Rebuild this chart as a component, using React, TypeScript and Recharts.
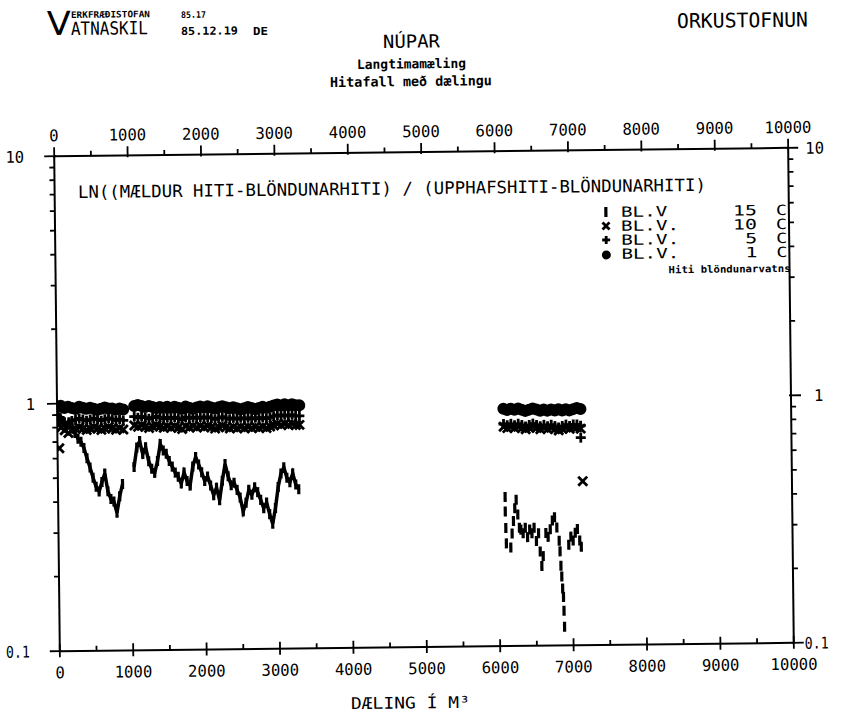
import React from "react";
import { ScatterChart, Scatter, XAxis, YAxis, Legend } from "recharts";

const FONT = "'DejaVu Sans Mono', 'Liberation Mono', monospace";

// dæling (m3) ticks: every 500, labels every 1000
const xTicks = [0, 500, 1000, 1500, 2000, 2500, 3000, 3500, 4000, 4500, 5000, 5500, 6000, 6500, 7000, 7500, 8000, 8500, 9000, 9500, 10000];
const xLabels = [0, 1000, 2000, 3000, 4000, 5000, 6000, 7000, 8000, 9000, 10000];
const yTicks = [0.1, 0.2, 0.3, 0.4, 0.5, 0.6, 0.7, 0.8, 0.9, 1, 2, 3, 4, 5, 6, 7, 8, 9, 10];
const yLabels = [0.1, 1, 10];

// BL.V 1 C  (first period from 0 m3, second from 6080 m3, 50 m3 apart)
const bl1A = [
  0.97, 0.98, 0.96, 0.97, 0.96, 0.95, 0.97, 0.96, 0.95, 0.96, 0.95, 0.94, 0.95, 0.96, 0.95, 0.95, 0.94, 0.95, 0.94,
  null, null,
  0.97, 0.98, 0.97, 0.96, 0.97, 0.96, 0.95, 0.96, 0.95, 0.96,
  0.95, 0.96, 0.95, 0.94, 0.96, 0.95, 0.94, 0.95, 0.96, 0.95,
  0.96, 0.95, 0.94, 0.95, 0.96, 0.95, 0.94, 0.95, 0.94, 0.93,
  0.94, 0.95, 0.94, 0.93, 0.94, 0.95, 0.94, 0.95, 0.96, 0.97,
  0.96, 0.97, 0.96, 0.97, 0.96, 0.96,
];
const bl1B = [0.91, 0.9, 0.91, 0.9, 0.91, 0.9, 0.89, 0.9, 0.91, 0.9, 0.89, 0.9, 0.89, 0.9, 0.89, 0.9, 0.89, 0.9, 0.89, 0.9, 0.91, 0.9];

// BL.V 5 C
const bl5A = [
  0.88, 0.86, 0.84, 0.82, 0.85, 0.86, 0.87, 0.86, 0.85, 0.86, 0.87, 0.86, 0.85, 0.86, 0.87, 0.86, 0.85, 0.86, 0.85,
  null, null,
  0.88, 0.87, 0.88, 0.87, 0.86, 0.87, 0.88, 0.87, 0.86, 0.87,
  0.86, 0.87, 0.86, 0.85, 0.87, 0.86, 0.87, 0.86, 0.87, 0.86,
  0.87, 0.86, 0.85, 0.86, 0.87, 0.86, 0.85, 0.86, 0.85, 0.86,
  0.85, 0.86, 0.85, 0.86, 0.85, 0.86, 0.85, 0.86, 0.87, 0.88,
  0.87, 0.88, 0.87, 0.88, 0.87, 0.87,
];
const bl5B = [0.79, 0.78, 0.79, 0.78, 0.79, 0.78, 0.77, 0.78, 0.79, 0.78, 0.77, 0.78, 0.77, 0.78, 0.77, 0.76, 0.77, 0.78, 0.77, 0.78, 0.78, 0.77];
const bl5ExtraX = [7130];
const bl5ExtraY = [0.69];

// BL.V 10 C
const bl10A = [
  0.84, 0.8, 0.78, 0.76, 0.78, 0.79, 0.8, 0.79, 0.78, 0.79, 0.8, 0.79, 0.78, 0.79, 0.8, 0.79, 0.78, 0.79, 0.78,
  null, null,
  0.81, 0.8, 0.81, 0.8, 0.79, 0.8, 0.81, 0.8, 0.79, 0.8,
  0.79, 0.8, 0.79, 0.78, 0.8, 0.79, 0.8, 0.79, 0.8, 0.79,
  0.8, 0.79, 0.78, 0.79, 0.8, 0.79, 0.78, 0.79, 0.78, 0.79,
  0.78, 0.79, 0.78, 0.79, 0.78, 0.79, 0.78, 0.79, 0.8, 0.81,
  0.8, 0.81, 0.8, 0.81, 0.8, 0.8,
];
const bl10B = [0.77, 0.76, 0.77, 0.76, 0.77, 0.76, 0.75, 0.76, 0.77, 0.76, 0.75, 0.76, 0.75, 0.76, 0.75, 0.74, 0.75, 0.76, 0.75, 0.76, 0.76, 0.75];
const bl10ExtraX = [25, 7150];
const bl10ExtraY = [0.66, 0.46];

// BL.V 15 C, first period in two runs (40 m3 apart), broken near 950 m3
const bl15A1 = [
  0.92, 0.88, 0.85, 0.8, 0.84, 0.8, 0.76, 0.72, 0.7, 0.66,
  0.6, 0.55, 0.5, 0.46, 0.44, 0.48, 0.52, 0.44, 0.41, 0.4,
  0.36, 0.42, 0.47,
];
const bl15A2 = [
  0.55, 0.66, 0.7, 0.62,
  0.66, 0.58, 0.54, 0.52, 0.58, 0.68, 0.64, 0.62, 0.58, 0.55,
  0.52, 0.5, 0.47, 0.52, 0.48, 0.46, 0.55, 0.6, 0.56, 0.52,
  0.48, 0.5, 0.46, 0.42, 0.45, 0.4, 0.48, 0.56, 0.5, 0.46,
  0.47, 0.44, 0.41, 0.36, 0.39, 0.44, 0.42, 0.45, 0.43, 0.4,
  0.37, 0.39, 0.35, 0.32, 0.37, 0.45, 0.51, 0.54, 0.49, 0.47,
  0.51, 0.46, 0.44,
];
const bl15BX = [
  6090, 6090, 6095, 6100, 6160, 6180, 6200, 6220, 6240, 6260, 6280, 6300, 6330, 6360, 6390, 6420, 6450, 6480, 6510, 6540,
  6560, 6580, 6600, 6640, 6670, 6700, 6730, 6760, 6790, 6820, 6830, 6840, 6850, 6860, 6870, 6875, 6880, 6950, 6980, 7010,
  7040, 7070, 7100, 7120,
];
const bl15BY = [
  0.4, 0.35, 0.3, 0.26, 0.25, 0.285, 0.32, 0.36, 0.39, 0.34, 0.3, 0.295, 0.285, 0.3, 0.275, 0.295, 0.285, 0.3, 0.265, 0.285,
  0.24, 0.21, 0.23, 0.285, 0.275, 0.295, 0.32, 0.33, 0.3, 0.265, 0.24, 0.21, 0.19, 0.17, 0.157, 0.138, 0.119, 0.255, 0.275, 0.265,
  0.285, 0.295, 0.265, 0.25,
];

// plot frame before the page tilt
const PL = 57;
const PR = 791;
const PT = 152;
const PB = 647;
// the scanned sheet is turned a little
const TILT = 0.65;
const CX = 425;
const CY = 400;
const SIN = Math.sin((TILT * Math.PI) / 180);

// point on the tilted sheet -> point before tilt
function un(x: number, y: number): [number, number] {
  return [CX + (x - CX) - SIN * (y - CY), CY + SIN * (x - CX) + (y - CY)];
}

type Pt = { x: number; y: number };

function spaced(start: number, step: number, vals: (number | null)[]): Pt[] {
  const out: Pt[] = [];
  vals.forEach((v, i) => {
    if (v !== null) out.push({ x: start + i * step, y: v });
  });
  return out;
}

function pairs(xs: number[], ys: number[]): Pt[] {
  return xs.map((x, i) => ({ x, y: ys[i] }));
}

const s1 = [...spaced(0, 50, bl1A), ...spaced(6080, 50, bl1B)];
const s5 = [...spaced(0, 50, bl5A), ...spaced(6080, 50, bl5B), ...pairs(bl5ExtraX, bl5ExtraY)];
const s10 = [...spaced(0, 50, bl10A), ...spaced(6080, 50, bl10B), ...pairs(bl10ExtraX, bl10ExtraY)];
const s15a = spaced(0, 40, bl15A1);
const s15b = spaced(1040, 40, bl15A2);
const s15c = pairs(bl15BX, bl15BY);

const INK = "#000";

// marker shapes
function Dash(p: any) {
  return <line x1={p.cx} x2={p.cx} y1={p.cy - 5} y2={p.cy + 5} stroke={INK} strokeWidth={3.2} />;
}
function Cross(p: any) {
  const r = p.r ?? 4.5;
  return (
    <g stroke={INK} strokeWidth={2.8}>
      <line x1={p.cx - r} y1={p.cy - r} x2={p.cx + r} y2={p.cy + r} />
      <line x1={p.cx - r} y1={p.cy + r} x2={p.cx + r} y2={p.cy - r} />
    </g>
  );
}
function Plus(p: any) {
  const r = p.r ?? 5;
  return (
    <g stroke={INK} strokeWidth={2.8}>
      <line x1={p.cx - r} y1={p.cy} x2={p.cx + r} y2={p.cy} />
      <line x1={p.cx} y1={p.cy - r} x2={p.cx} y2={p.cy + r} />
    </g>
  );
}
function Blob(p: any) {
  return <circle cx={p.cx} cy={p.cy} r={p.r ?? 6} fill={INK} />;
}

function Txt(props: any) {
  const { x, y, w, size = 17, bold = false, anchor = "start", children } = props;
  return (
    <text
      x={x}
      y={y}
      fontFamily={FONT}
      fontSize={size}
      fontWeight={bold ? "bold" : "normal"}
      textAnchor={anchor}
      textLength={w}
      lengthAdjust="spacingAndGlyphs"
      fill={INK}
    >
      {children}
    </text>
  );
}

// text placed where it sits on the tilted sheet
function SheetTxt(props: any) {
  const [x, y] = un(props.x, props.y);
  return <Txt {...props} x={x} y={y} />;
}

// plotter digits are about 9.4 px, the point narrower
function labelWidth(v: number) {
  const s = String(v);
  return s.replace(".", "").length * 9.4 + (s.includes(".") ? 5 : 0);
}

function renderBottomTick(props: any) {
  const { x, payload } = props;
  const v = payload.value;
  const major = xLabels.includes(v);
  return (
    <g key={`b${v}`}>
      <path d={`M${x},${major ? PB - 7 : PB - 5}V${major ? PB + 6 : PB}`} stroke={INK} strokeWidth={1.8} fill="none" />
      {major && (
        <Txt x={x} y={PB + 27} size={16} w={labelWidth(v)} anchor="middle">
          {v}
        </Txt>
      )}
    </g>
  );
}

function renderTopTick(props: any) {
  const { x, payload } = props;
  const v = payload.value;
  const major = xLabels.includes(v);
  return (
    <g key={`t${v}`}>
      <path d={`M${x},${major ? PT - 9 : PT - 5}V${major ? PT + 2 : PT}`} stroke={INK} strokeWidth={1.8} fill="none" />
      {major && (
        <Txt x={x} y={PT - 15} size={16} w={labelWidth(v)} anchor="middle">
          {v}
        </Txt>
      )}
    </g>
  );
}

function renderLeftTick(props: any) {
  const { y, payload } = props;
  const v = payload.value;
  const major = yLabels.includes(v);
  return (
    <g key={`l${v}`}>
      <path d={`M${major ? PL - 10 : PL - 5},${y}H${major ? PL + 2 : PL}`} stroke={INK} strokeWidth={1.8} fill="none" />
      {major && (
        <Txt x={v === 1 ? 35 : 27} y={y + 6} size={16} w={labelWidth(v)} anchor="end">
          {v}
        </Txt>
      )}
    </g>
  );
}

function renderRightTick(props: any) {
  const { y, payload } = props;
  const v = payload.value;
  const major = yLabels.includes(v);
  return (
    <g key={`r${v}`}>
      <path d={`M${major ? PR - 2 : PR},${y}H${major ? PR + 10 : PR + 5}`} stroke={INK} strokeWidth={1.8} fill="none" />
      {major && (
        <Txt x={v === 1 ? 814 : v === 10 ? 808 : 802} y={y + 6} size={16} w={labelWidth(v)}>
          {v}
        </Txt>
      )}
    </g>
  );
}

const legendRows = [
  { sym: "dash", label: "BL.V", num: "15" },
  { sym: "cross", label: "BL.V.", num: "10" },
  { sym: "plus", label: "BL.V.", num: "5" },
  { sym: "dot", label: "BL.V.", num: "1" },
];

function LegendBox() {
  return (
    <svg width={200} height={80}>
      {legendRows.map((r, i) => {
        const cy = 12 + i * 14;
        const cx = 9;
        return (
          <g key={r.num}>
            {r.sym === "dash" && <Dash cx={cx} cy={cy} />}
            {r.sym === "cross" && <Cross cx={cx} cy={cy} r={3.5} />}
            {r.sym === "plus" && <Plus cx={cx} cy={cy} r={4} />}
            {r.sym === "dot" && <Blob cx={cx} cy={cy + 1} r={4.5} />}
            <Txt x={24} y={cy + 5} size={14} w={r.label.length * 11.6}>
              {r.label}
            </Txt>
            <Txt x={160} y={cy + 5} size={14} w={r.num.length * 12} anchor="end">
              {r.num}
            </Txt>
            <Txt x={190} y={cy + 5} size={14} w={11} anchor="end">
              C
            </Txt>
          </g>
        );
      })}
      <Txt x={71} y={74} size={10} bold w={122}>
        Hiti blöndunarvatns
      </Txt>
    </svg>
  );
}

const [legX, legY] = un(597, 200);
const [vX, vY] = un(47, 35);

export default function App() {
  return (
    <div style={{ position: "absolute", left: 0, top: 0, width: 848, height: 713, background: "#fff", overflow: "hidden" }}>
      <div style={{ position: "relative", width: 848, height: 713, transform: `rotate(-${TILT}deg)`, transformOrigin: `${CX}px ${CY}px` }}>
        <ScatterChart width={848} height={713} margin={{ top: PT - 1, right: 848 - PR - 1, bottom: 713 - PB - 1, left: PL - 1 }}>
          <XAxis
            xAxisId="b"
            type="number"
            dataKey="x"
            domain={[0, 10000]}
            allowDataOverflow
            ticks={xTicks}
            interval={0}
            height={1}
            orientation="bottom"
            axisLine={{ stroke: INK, strokeWidth: 2 }}
            tickLine={false}
            tick={renderBottomTick}
          />
          <XAxis
            xAxisId="t"
            type="number"
            dataKey="x"
            domain={[0, 10000]}
            allowDataOverflow
            ticks={xTicks}
            interval={0}
            height={1}
            orientation="top"
            axisLine={{ stroke: INK, strokeWidth: 2 }}
            tickLine={false}
            tick={renderTopTick}
          />
          <YAxis
            yAxisId="l"
            type="number"
            dataKey="y"
            scale="log"
            domain={[0.1, 10]}
            allowDataOverflow
            ticks={yTicks}
            interval={0}
            width={1}
            orientation="left"
            axisLine={{ stroke: INK, strokeWidth: 2 }}
            tickLine={false}
            tick={renderLeftTick}
          />
          <YAxis
            yAxisId="r"
            type="number"
            dataKey="y"
            scale="log"
            domain={[0.1, 10]}
            allowDataOverflow
            ticks={yTicks}
            interval={0}
            width={1}
            orientation="right"
            axisLine={{ stroke: INK, strokeWidth: 2 }}
            tickLine={false}
            tick={renderRightTick}
          />
          <Scatter name="BL.V 15 C" data={s15a} xAxisId="b" yAxisId="l" shape={<Dash />} line={{ stroke: INK, strokeWidth: 3.5 }} isAnimationActive={false} />
          <Scatter name="BL.V 15 C b" data={s15b} xAxisId="b" yAxisId="l" shape={<Dash />} line={{ stroke: INK, strokeWidth: 3.5 }} isAnimationActive={false} />
          <Scatter name="BL.V 15 C c" data={s15c} xAxisId="b" yAxisId="l" shape={<Dash />} isAnimationActive={false} />
          <Scatter name="BL.V. 10 C" data={s10} xAxisId="b" yAxisId="l" shape={<Cross />} isAnimationActive={false} />
          <Scatter name="BL.V. 5 C" data={s5} xAxisId="b" yAxisId="l" shape={<Plus />} isAnimationActive={false} />
          <Scatter name="BL.V. 1 C" data={s1} xAxisId="b" yAxisId="l" shape={<Blob />} isAnimationActive={false} />
          <Legend
            layout="vertical"
            align="center"
            verticalAlign="middle"
            wrapperStyle={{ left: legX, top: legY, width: 200, height: 80 }}
            content={() => <LegendBox />}
          />
        </ScatterChart>
        <svg width={848} height={713} style={{ position: "absolute", left: 0, top: 0, pointerEvents: "none" }}>
          <text x={vX} y={vY} fontFamily="'DejaVu Sans', sans-serif" fontSize={33} textLength={24} lengthAdjust="spacingAndGlyphs" fill={INK}>
            V
          </text>
          <SheetTxt x={71} y={18} size={9} bold w={79}>ERKFRÆÐISTOFAN</SheetTxt>
          <SheetTxt x={71} y={35} size={18} w={77}>ATNASKIL</SheetTxt>
          <SheetTxt x={181} y={18} size={9} bold w={25}>85.17</SheetTxt>
          <SheetTxt x={181} y={35} size={11} bold w={57}>85.12.19</SheetTxt>
          <SheetTxt x={253} y={35} size={11} bold w={15}>DE</SheetTxt>
          <SheetTxt x={677} y={28} size={20} w={131}>ORKUSTOFNUN</SheetTxt>
          <SheetTxt x={383} y={48} size={18} w={57}>NÚPAR</SheetTxt>
          <SheetTxt x={357} y={69} size={13} bold w={109}>Langtimamæling</SheetTxt>
          <SheetTxt x={330} y={87} size={13.5} bold w={162}>Hitafall með dælingu</SheetTxt>
          <SheetTxt x={78} y={198} size={17} w={628}>LN((MÆLDUR HITI-BLÖNDUNARHITI) / (UPPHAFSHITI-BLÖNDUNARHITI)</SheetTxt>
          <SheetTxt x={351} y={709} size={16} w={119}>DÆLING Í M³</SheetTxt>
        </svg>
      </div>
    </div>
  );
}
